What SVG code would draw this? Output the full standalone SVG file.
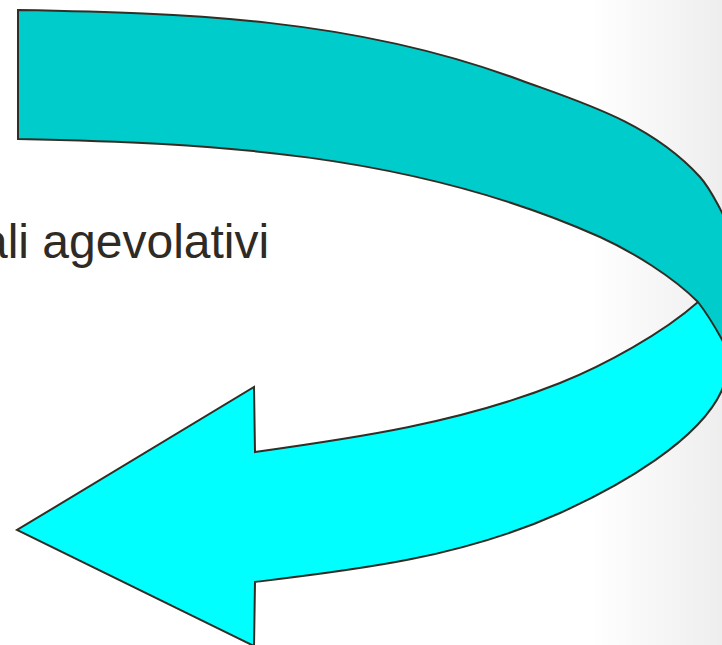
<svg xmlns="http://www.w3.org/2000/svg" width="722" height="645" viewBox="0 0 722 645">
  <defs>
    <linearGradient id="bg" gradientUnits="userSpaceOnUse" x1="590" y1="0" x2="722" y2="0">
      <stop offset="0" stop-color="#ffffff"/>
      <stop offset="1" stop-color="#eeeeee"/>
    </linearGradient>
    <style>
      .band { stroke: #322d25; stroke-width: 2; stroke-linejoin: miter; }
      .dark { fill: #00cccc; }
      .light { fill: #00ffff; }
      .label { font-family: "Liberation Sans", Arial, sans-serif; font-size: 48px; fill: #2f2b24; }
    </style>
  </defs>
  <rect x="0" y="0" width="722" height="645" fill="url(#bg)"/>
  <g id="label">
    <text class="label" x="-19" y="258">ali agevolativi</text>
  </g>
  <g id="arrow">
    <path id="lower-band" class="band light" d="M718,285 L698,302 C663,333 605,365 560,383 C460,423 355,438 255,452 L254,387 L17,530 L254,646 L255,582 C355,570 460,558 560,513 C620,486 700,440 722,390 L750,300 Z"/>
    <path id="upper-band" class="band dark" d="M18,10 C185,13 353,18 520,80 C580,102 650,122 700,177 C720,199 760,290 760,330 L740,380 C735,360 712,320 698,302 C673,277 633,252 600,237 C410,152 208,143 18,139 Z"/>
  </g>
</svg>
